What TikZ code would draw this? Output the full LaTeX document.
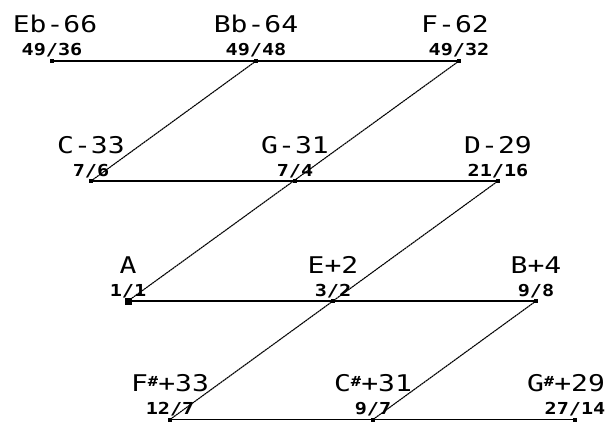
\documentclass[tikz,border=0pt]{standalone}
\usepackage{fontspec}
\usepackage{tikz}
\usetikzlibrary{positioning,calc}
\newfontfamily\notefont{DejaVu Sans Mono}
\newcommand{\shp}{\raisebox{5pt}{\fontsize{14}{14}\selectfont\bfseries\#}}
\newcommand{\wide}[1]{\scalebox{1.22}[1]{#1}}

\tikzset{
  note/.style={font=\notefont\fontsize{23}{23}\selectfont, anchor=base, inner sep=0pt},
  ratio/.style={font=\notefont\bfseries\fontsize{16.5}{16.5}\selectfont, anchor=base, inner sep=0pt},
  tone/.style={fill=black, minimum size=4pt, inner sep=0pt},
  fifth/.style={line width=1.6pt},
  third/.style={line width=1.1pt, black, dash pattern=on 2pt off 0.5pt}
}

\begin{document}
\begin{tikzpicture}[x=1pt, y=1pt]
  \useasboundingbox (0,0) rectangle (612,421);
  % lattice points: name / x / y / label x / label / ratio
  \foreach \n/\x/\y/\lx/\lab/\rat in {eb/52/360/55/{Eb-66}/{49/36}, bb/256/360/256/{Bb-64}/{49/48}, f/459/360/455/{F-62}/{49/32},
      c/91/240/91/{C-33}/{7/6}, g/295/240/295/{G-31}/{7/4}, d/498/240/498/{D-29}/{21/16},
      a/128/120/128/{A}/{1/1}, e/333/120/333/{E+2}/{3/2}, b/536/120/536/{B+4}/{9/8},
      fs/170/1.5/170/{F\shp+33}/{12/7}, cs/373/1.5/373/{C\shp+31}/{9/7}, gs/575/1.5/566/{G\shp+29}/{27/14}} {
    \coordinate (\n) at (\x,\y);
    \node[ratio] (\n-r) at ($(\n)+(0,5)$) {\wide{\rat}};
    \node[note] (\n-n) at (\lx,\y+28) {\wide{\lab}};
  }
  % fifths
  \draw[fifth] (eb) -- (f);
  \draw[fifth] (c) -- (d);
  \draw[fifth] (a) -- (b);
  \draw[fifth] (fs) -- (gs);
  % thirds
  \draw[third] (c) -- (bb);
  \draw[third] (a) -- (f);
  \draw[third] (fs) -- (d);
  \draw[third] (cs) -- (b);
  \foreach \n in {eb,bb,f,c,g,d,e,b,fs,cs,gs} \node[tone] at (\n) {};
  \node[tone, minimum size=7pt] at (a) {};
\end{tikzpicture}
\end{document}
